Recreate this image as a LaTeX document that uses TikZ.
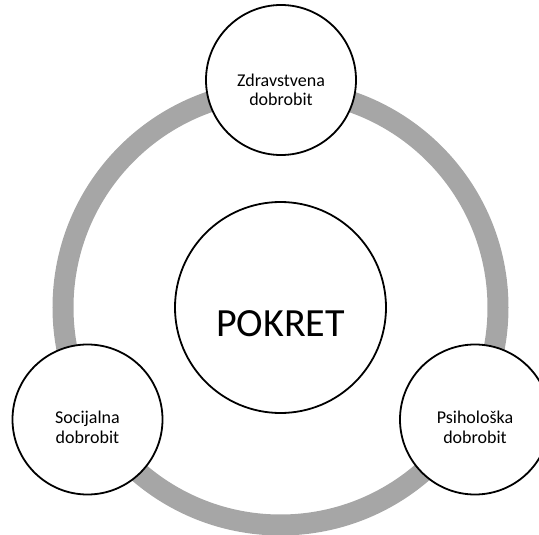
\documentclass[tikz,border=0pt]{standalone}
\usepackage{fontspec}
\setmainfont{Carlito}
\definecolor{prsten}{HTML}{A6A6A6}
\begin{document}
\begin{tikzpicture}[x=1pt,y=-1pt,
  krug/.style={circle,draw,line width=1.8pt,fill=white,inner sep=0pt,minimum size=150pt},
  natpis/.style={align=center,inner sep=0pt,font=\fontsize{18}{19.5}\selectfont}]
  \useasboundingbox (0,0) rectangle (539,535);
  \clip (0,0) rectangle (539,535);
  \draw[line width=21pt,prsten] (280.5,307.5) circle (217.5pt);
  \node[krug,minimum size=211pt] (pokret) at (280.5,307.5) {};
  \node[krug] (zdrav)  at (281,80)     {};
  \node[krug] (socij)  at (87.5,419.5) {};
  \node[krug] (psiho)  at (475,419.5)  {};
  \node[natpis,font=\fontsize{40}{44}\selectfont] (tpokret) at ([yshift=-16pt]pokret.center) {POKRET};
  \node[natpis] (tzdrav) at ([yshift=-10pt]zdrav.center) {Zdravstvena\\dobrobit};
  \node[natpis] (tsocij) at ([yshift=-8pt]socij.center)  {Socijalna\\dobrobit};
  \node[natpis] (tpsiho) at ([yshift=-8pt]psiho.center)  {Psihološka\\dobrobit};
\end{tikzpicture}
\end{document}
